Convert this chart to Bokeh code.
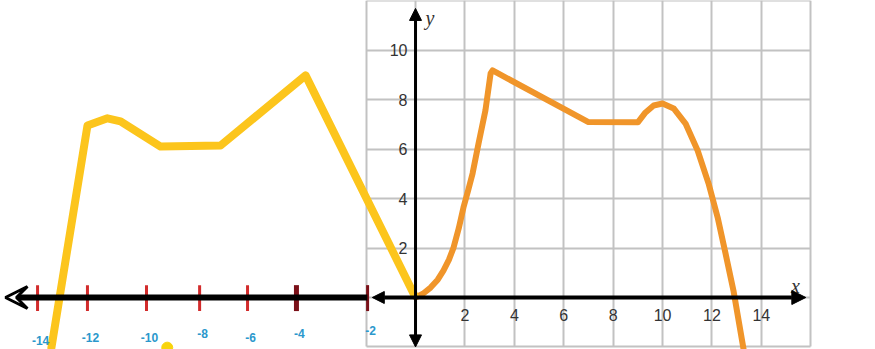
from bokeh.plotting import figure
from bokeh.models import (ColumnDataSource, Range1d, Grid, SingleIntervalTicker,
                          Arrow, NormalHead, VeeHead)
from bokeh.core.properties import value
from bokeh.embed import file_html
from bokeh.resources import INLINE

# ---- data (in grid units) ----
orange_x = [0.0, 0.3, 0.61, 0.9, 1.13, 1.35, 1.54, 1.75, 1.94, 2.13, 2.31, 2.55, 2.83, 3.04, 3.12,
            7.0, 9.0, 9.31, 9.64, 10.0, 10.45, 10.93, 11.42, 11.86, 12.23, 12.55, 12.87, 13.28]
orange_y = [0.0, 0.15, 0.40, 0.72, 1.09, 1.52, 2.02, 2.8, 3.64, 4.33, 5.02, 6.23, 7.57, 9.07, 9.19,
            7.1, 7.09, 7.49, 7.77, 7.85, 7.65, 7.04, 5.95, 4.62, 3.24, 1.78, 0.28, -2.1]

yellow_x = [-14.75, -13.28, -12.47, -11.94, -10.32, -7.89, -4.45, 0.0]
yellow_y = [-2.1, 6.96, 7.25, 7.13, 6.11, 6.15, 8.99, 0.0]

stray_x = [-10.05]
stray_y = [-2.03]

x_tick_vals = [2, 4, 6, 8, 10, 12, 14]
x_tick_labels = ["2", "4", "6", "8", "10", "12", "14"]
y_tick_vals = [2, 4, 6, 8, 10]
y_tick_labels = ["2", "4", "6", "8", "10"]

left_tick_pos = [-15.30, -13.28, -10.89, -8.74, -6.80, -4.82, -1.94]
left_tick_labels = ["-14", "-12", "-10", "-8", "-6", "-4", "-2"]
left_label_dy = [43, 40, 40, 36, 40, 36, 33]

W, H = 875, 349
p = figure(width=W, height=H, x_range=Range1d(-16.8, 18.62), y_range=Range1d(-2.105, 12.02),
           output_backend="svg", toolbar_location=None, min_border=0,
           x_axis_location=None, y_axis_location=None, background_fill_color="white",
           border_fill_color="white")
p.outline_line_color = None
p.xgrid.visible = False
p.ygrid.visible = False

GRID = "#c2c2c2"
gx = Grid(dimension=0, ticker=SingleIntervalTicker(interval=2), bounds=(-2, 16), cross_bounds=(-2, 12),
          grid_line_color=GRID, grid_line_width=2)
gy = Grid(dimension=1, ticker=SingleIntervalTicker(interval=2), bounds=(-2, 12), cross_bounds=(-2, 16),
          grid_line_color=GRID, grid_line_width=2)
p.add_layout(gx)
p.add_layout(gy)

# axes with arrow heads
p.add_layout(Arrow(start=NormalHead(size=12, fill_color="black", line_color="black"),
                   end=NormalHead(size=14, fill_color="black", line_color="black"),
                   x_start=-1.75, y_start=0, x_end=15.8, y_end=0, line_width=4, line_color="black"))
p.add_layout(Arrow(end=VeeHead(size=22, fill_color=None, line_color="black", line_width=3),
                   x_start=-1.95, y_start=0, x_end=-16.6, y_end=0, line_width=6, line_color="black"))
p.add_layout(Arrow(start=NormalHead(size=12, fill_color="black", line_color="black"),
                   end=NormalHead(size=12, fill_color="black", line_color="black"),
                   x_start=0, y_start=-2.0, x_end=0, y_end=11.7, line_width=3, line_color="black"))

# left hand-drawn ticks
tick_src = ColumnDataSource(dict(x=left_tick_pos, lab=left_tick_labels, dy=left_label_dy,
                                 color=["#d22b2b"] * 5 + ["#7a1018", "#7a1018"],
                                 lw=[3, 3, 3, 3, 3, 5, 3]))
p.segment(x0="x", y0=0.5, x1="x", y1=-0.55, source=tick_src, line_color="color", line_width="lw")

# curves
p.line(orange_x, orange_y, line_color="#f0952a", line_width=6, line_join="round", line_cap="round")
p.line(yellow_x, yellow_y, line_color="#fcc51c", line_width=8, line_join="round")
p.scatter(stray_x, stray_y, size=11, color="#f8d40c")

# right tick labels
p.text(x=x_tick_vals, y=[0] * len(x_tick_vals), text=x_tick_labels, y_offset=18,
       text_align="center", text_baseline="middle", text_font=value("Liberation Sans"),
       text_font_size="16px", text_color="#333333")
p.text(x=[0] * len(y_tick_vals), y=y_tick_vals, text=y_tick_labels, x_offset=-8,
       text_align="right", text_baseline="middle", text_font=value("Liberation Sans"),
       text_font_size="16px", text_color="#333333")

# left labels
p.text(x="x", y=0, text="lab", source=tick_src, x_offset=3, y_offset="dy",
       text_align="center", text_baseline="middle", text_font=value("Liberation Sans"),
       text_font_size="12px", text_font_style="bold", text_color="#2b98cc")

# axis names
p.text(x=[0.4], y=[11.3], text=["y"], text_font=value("Liberation Serif"), text_font_style="italic",
       text_font_size="20px", text_baseline="middle", text_color="#333333")
p.text(x=[15.2], y=[0.45], text=["x"], text_font=value("Liberation Serif"), text_font_style="italic",
       text_font_size="20px", text_baseline="middle", text_color="#333333")

open("out.html", "w").write(file_html(p, INLINE))
